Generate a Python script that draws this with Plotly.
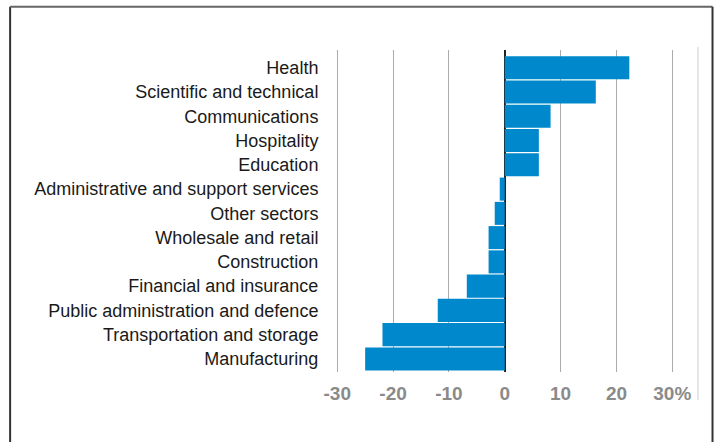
import plotly.graph_objects as go

sectors = [
    "Health",
    "Scientific and technical",
    "Communications",
    "Hospitality",
    "Education",
    "Administrative and support services",
    "Other sectors",
    "Wholesale and retail",
    "Construction",
    "Financial and insurance",
    "Public administration and defence",
    "Transportation and storage",
    "Manufacturing",
]
change_pct = [22.3, 16.3, 8.2, 6.1, 6.1, -0.9, -1.8, -2.9, -2.9, -6.8, -12.0, -21.9, -25.0]

tick_vals = [-30, -20, -10, 0, 10, 20, 30]
tick_text = ["-30", "-20", "-10", "0", "10", "20", "30%"]

# bottom-to-top order so Health sits at the top
y_order = list(reversed(sectors))

fig = go.Figure(
    go.Bar(
        x=change_pct,
        y=sectors,
        orientation="h",
        marker=dict(color="#0088cc", line=dict(width=0)),
        hoverinfo="x+y",
    )
)

fig.update_layout(
    width=717,
    height=442,
    margin=dict(l=335, r=19, t=50, b=70),
    paper_bgcolor="white",
    plot_bgcolor="white",
    bargap=0.05,
    showlegend=False,
    font=dict(family="Liberation Sans, Arial, sans-serif"),
    xaxis=dict(
        range=[-30.4, 34.6],
        tickvals=tick_vals,
        ticktext=tick_text,
        showgrid=True,
        gridcolor="#ababab",
        gridwidth=1,
        zeroline=True,
        zerolinecolor="#222222",
        zerolinewidth=1.5,
        showline=False,
        ticks="outside",
        ticklen=4,
        tickcolor="rgba(0,0,0,0)",
        tickfont=dict(size=19, color="#8a8a8a", family="Liberation Sans, Arial, sans-serif", weight="bold"),
        fixedrange=True,
    ),
    yaxis=dict(
        categoryorder="array",
        categoryarray=y_order,
        range=[-0.54, 12.735],
        showgrid=False,
        zeroline=False,
        showline=False,
        ticks="outside",
        ticklen=12,
        tickcolor="rgba(0,0,0,0)",
        tickfont=dict(size=18, color="#1a1a1a"),
        fixedrange=True,
    ),
    shapes=[
        # outer frame (left, top, right edges)
        dict(type="line", xref="paper", yref="paper",
             x0=-0.895, x1=-0.895, y0=1.134, y1=-0.3,
             line=dict(color="#333333", width=2)),
        dict(type="line", xref="paper", yref="paper",
             x0=-0.895, x1=1.04, y0=1.134, y1=1.134,
             line=dict(color="#666666", width=2)),
        dict(type="line", xref="paper", yref="paper",
             x0=1.04, x1=1.04, y0=1.134, y1=-0.3,
             line=dict(color="#333333", width=2)),
        # light right edge of the plotting area
        dict(type="line", xref="paper", yref="paper",
             x0=1.0, x1=1.0, y0=1.009, y1=-0.087,
             line=dict(color="#cccccc", width=1)),
    ],
)

fig.write_html("out.html")
